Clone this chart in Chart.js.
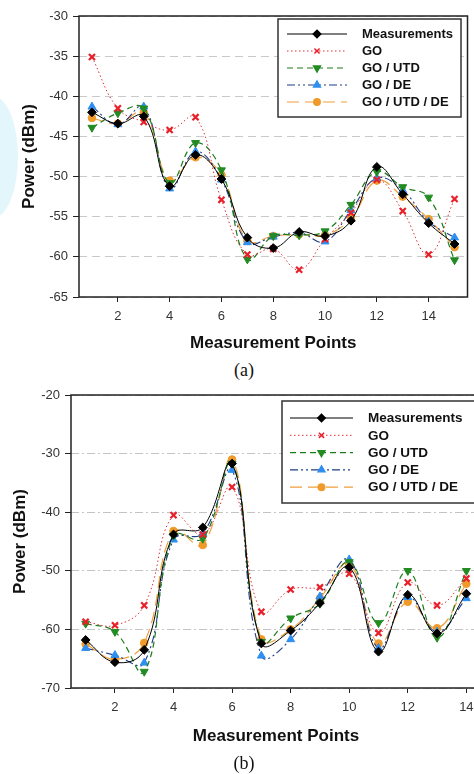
<!DOCTYPE html>
<html>
<head>
<meta charset="utf-8">
<script src="https://cdn.jsdelivr.net/npm/chart.js@4.4.0/dist/chart.umd.min.js"></script>
<style>
  html, body { margin: 0; padding: 0; background: #fff; overflow: hidden; width: 474px; height: 774px; }
  .wrap { position: absolute; left: 0; }
  #wrapA { top: 0; }
  #wrapB { top: 380px; }
  .cap { position: absolute; left: 7px; width: 474px; text-align: center; line-height: 20px;
         font-family: "Liberation Serif", "Times New Roman", serif; font-size: 18px; color: #111; }
  .mark { position: absolute; left: -32px; top: 96px; width: 50px; height: 122px; border-radius: 50%; background: #e3f6fc; }
</style>
</head>
<body>
<div class="mark"></div>
<div class="wrap" id="wrapA"><canvas id="chartA" width="474" height="360"></canvas></div>
<div class="cap" style="top:360px">(a)</div>
<div class="wrap" id="wrapB"><canvas id="chartB" width="490" height="380"></canvas></div>
<div class="cap" style="top:753px">(b)</div>
<script>
// labels of the five series
const seriesNames = ["Measurements", "GO", "GO / UTD", "GO / DE", "GO / UTD / DE"];

// (a) measurement points 1..15, power in dBm
const pointsA = [1, 2, 3, 4, 5, 6, 7, 8, 9, 10, 11, 12, 13, 14, 15];
const measA = [-42.0, -43.4, -42.5, -51.2, -47.3, -50.3, -57.6, -58.9, -56.9, -57.4, -55.5, -48.8, -52.2, -55.8, -58.4];
const goA = [-35.1, -41.5, -43.2, -44.2, -42.6, -52.9, -59.7, -59.0, -61.6, -57.8, -54.5, -50.4, -54.3, -59.7, -52.8];
const utdA = [-43.9, -42.1, -41.5, -50.8, -45.8, -49.2, -60.3, -57.4, -57.3, -56.8, -53.5, -49.4, -51.3, -52.6, -60.4];
const deA = [-41.3, -43.5, -41.3, -51.5, -46.9, -50.4, -58.2, -57.5, -57.0, -58.1, -54.2, -50.2, -51.7, -55.6, -57.6];
const utdDeA = [-42.7, -43.4, -42.0, -50.5, -47.6, -49.8, -58.0, -57.4, -57.2, -57.3, -55.2, -50.5, -52.5, -55.3, -58.8];
const xTicksA = [2, 4, 6, 8, 10, 12, 14];

// (b) measurement points 1..14
const pointsB = [1, 2, 3, 4, 5, 6, 7, 8, 9, 10, 11, 12, 13, 14];
const measB = [-61.8, -65.6, -63.5, -43.8, -42.6, -31.7, -62.4, -60.2, -55.5, -49.4, -63.8, -54.1, -60.7, -53.9];
const goB = [-58.7, -59.3, -55.9, -40.5, -43.8, -35.7, -57.0, -53.2, -52.8, -50.5, -60.6, -52.0, -55.9, -51.3];
const utdB = [-59.0, -60.4, -67.2, -44.0, -44.5, -31.7, -62.1, -58.1, -55.6, -48.5, -58.9, -50.0, -61.4, -50.0];
const deB = [-63.2, -64.4, -65.7, -44.7, -43.6, -32.8, -64.5, -61.7, -54.4, -48.1, -63.2, -54.5, -60.4, -54.7];
const utdDeB = [-62.5, -65.1, -62.3, -43.2, -45.6, -31.0, -61.7, -60.0, -54.7, -48.8, -62.4, -55.3, -59.8, -52.2];
const xTicksB = [2, 4, 6, 8, 10, 12, 14];

const FONT = "'Liberation Sans', Arial, sans-serif";

// line / marker look of each series, same order as seriesNames
const styles = [
  {borderColor: "#000", borderDash: [], borderWidth: 1, pointStyle: "rectRot", pointRadius: 4.4,
   pointBackgroundColor: "#000", pointBorderColor: "#000", pointBorderWidth: 1, pointRotation: 0},
  {borderColor: "#e0303a", borderDash: [1.5, 2.5], borderWidth: 1, pointStyle: "crossRot", pointRadius: 4.3,
   pointBackgroundColor: "#e8202a", pointBorderColor: "#e8202a", pointBorderWidth: 2.2, pointRotation: 0},
  {borderColor: "#1c7d1c", borderDash: [6, 4], borderWidth: 1.2, pointStyle: "triangle", pointRadius: 4.6,
   pointBackgroundColor: "#228b22", pointBorderColor: "#228b22", pointBorderWidth: 1, pointRotation: 180},
  {borderColor: "#1f3c86", borderDash: [8, 3, 2, 3, 2, 3], borderWidth: 1.1, pointStyle: "triangle", pointRadius: 4.6,
   pointBackgroundColor: "#2e8ff0", pointBorderColor: "#2e8ff0", pointBorderWidth: 1, pointRotation: 0},
  {borderColor: "#eea03c", borderDash: [12, 6], borderWidth: 1.2, pointStyle: "circle", pointRadius: 3.8,
   pointBackgroundColor: "#f09a2a", pointBorderColor: "#f09a2a", pointBorderWidth: 1, pointRotation: 0},
];

function makeDatasets(xs, allSeries) {
  return allSeries.map((vals, i) => Object.assign({
    label: seriesNames[i],
    data: xs.map((x, j) => ({x, y: vals[j]})),
    tension: 0.42,
    fill: false,
  }, styles[i]));
}

// box round the plot area
const frame = {
  id: "frame",
  afterDraw(chart, args, opts) {
    const {ctx, chartArea: a} = chart;
    ctx.save();
    ctx.strokeStyle = opts.color;
    ctx.lineWidth = opts.width;
    ctx.strokeRect(a.left, a.top, a.right - a.left, a.bottom - a.top);
    ctx.restore();
  },
};

// legend in a box inside the plot
const boxLegend = {
  id: "boxLegend",
  afterDraw(chart, args, opts) {
    const ctx = chart.ctx;
    ctx.save();
    ctx.fillStyle = "#fff";
    ctx.fillRect(opts.x, opts.y, opts.w, opts.h);
    ctx.strokeStyle = "#333";
    ctx.lineWidth = 1.5;
    ctx.strokeRect(opts.x, opts.y, opts.w, opts.h);
    chart.data.datasets.forEach((ds, i) => {
      const y = opts.y + opts.firstRow + i * opts.rowH;
      ctx.save();
      ctx.strokeStyle = ds.borderColor;
      ctx.lineWidth = ds.borderWidth;
      ctx.setLineDash(ds.borderDash);
      ctx.beginPath();
      ctx.moveTo(opts.x + opts.line0, y);
      ctx.lineTo(opts.x + opts.line1, y);
      ctx.stroke();
      ctx.restore();
      ctx.fillStyle = ds.pointBackgroundColor;
      ctx.strokeStyle = ds.pointBorderColor;
      Chart.helpers.drawPoint(ctx, {
        pointStyle: ds.pointStyle, radius: ds.pointRadius * 0.85,
        rotation: ds.pointRotation, borderWidth: ds.pointBorderWidth,
      }, opts.x + (opts.line0 + opts.line1) / 2, y);
      ctx.fillStyle = "#111";
      ctx.font = "bold " + opts.fontSize + "px " + FONT;
      ctx.textBaseline = "middle";
      ctx.fillText(ds.label, opts.x + opts.textX, y + 0.5);
    });
    ctx.restore();
  },
};

function makeChart(id, xs, allSeries, xTicks, cfg) {
  return new Chart(document.getElementById(id), {
    type: "line",
    data: {datasets: makeDatasets(xs, allSeries)},
    plugins: [frame, boxLegend],
    options: {
      responsive: false,
      animation: false,
      layout: {padding: cfg.padding},
      plugins: {
        legend: {display: false},
        tooltip: {enabled: false},
        frame: {color: "#222", width: 1.5},
        boxLegend: cfg.legend,
      },
      scales: {
        x: {
          type: "linear",
          min: cfg.xMin,
          max: cfg.xMax,
          afterBuildTicks: axis => { axis.ticks = xTicks.map(v => ({value: v})); },
          afterFit: scale => { scale.height = cfg.xHeight; },
          border: {display: false},
          grid: {drawOnChartArea: false, tickLength: 5, tickColor: "#222", tickWidth: 1},
          ticks: {color: "#333", font: {family: FONT, size: 13}, padding: 7, maxRotation: 0},
          title: {display: true, text: "Measurement Points", color: "#111",
                  font: {family: FONT, size: 17, weight: "bold"}, padding: {top: 0, bottom: cfg.xTitlePad}},
        },
        y: {
          min: cfg.yMin,
          max: cfg.yMax,
          afterFit: scale => { scale.width = cfg.yWidth; },
          border: {display: false, dash: cfg.gridDash},
          grid: {color: cfg.gridColor, lineWidth: 1, tickLength: 6, tickColor: "#222", tickWidth: 1},
          ticks: {stepSize: cfg.yStep, color: "#333", font: {family: FONT, size: 13}, padding: 5},
          title: {display: true, text: "Power (dBm)", color: "#111",
                  font: {family: FONT, size: 17, weight: "bold"}, padding: {top: cfg.yTitlePad}},
        },
      },
    },
  });
}

makeChart("chartA", pointsA, [measA, goA, utdA, deA, utdDeA], xTicksA, {
  padding: {top: 16, right: 6, left: 0, bottom: 0},
  xMin: 0.5, xMax: 15.5, yMin: -65, yMax: -30, yStep: 5,
  xHeight: 63, yWidth: 79, xTitlePad: 6.5, yTitlePad: 19,
  gridDash: [8, 5], gridColor: "#c9c9c9",
  legend: {x: 278, y: 19, w: 183, h: 98, firstRow: 15, rowH: 17,
           line0: 9, line1: 69, textX: 84, fontSize: 13},
});

makeChart("chartB", pointsB, [measB, goB, utdB, deB, utdDeB], xTicksB, {
  padding: {top: 15, right: 9, left: 0, bottom: 0},
  xMin: 0.5, xMax: 14.5, yMin: -70, yMax: -20, yStep: 10,
  xHeight: 72, yWidth: 71, xTitlePad: 13, yTitlePad: 10,
  gridDash: [8, 3, 2, 3], gridColor: "#c4c4c4",
  legend: {x: 282, y: 21, w: 193, h: 102, firstRow: 17, rowH: 17.3,
           line0: 8, line1: 71, textX: 86, fontSize: 13.5},
});
</script>
</body>
</html>
